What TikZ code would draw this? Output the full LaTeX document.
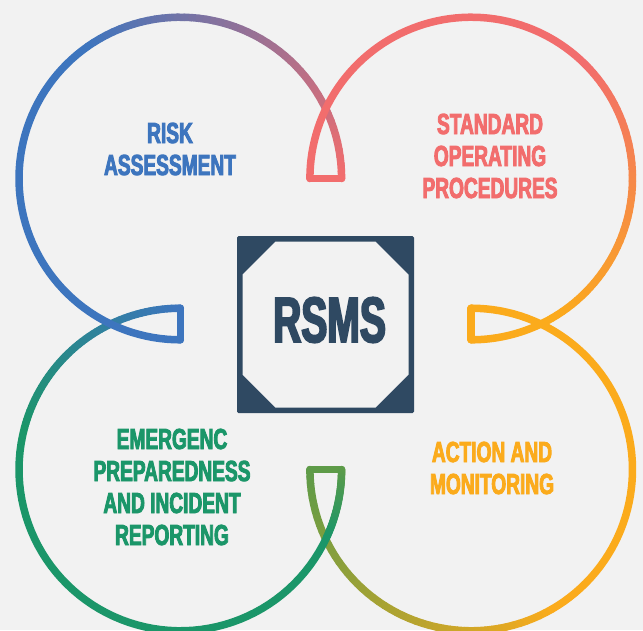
\documentclass[tikz,border=0pt]{standalone}
\usepackage{fontspec}
\newfontfamily\lblfont[UprightFont={* Bold},FakeStretch=0.66,FakeBold=3]{Liberation Sans}
\newfontfamily\titlefont[UprightFont={* Bold},FakeStretch=0.61,FakeBold=3]{Liberation Sans}
\definecolor{bg}{HTML}{F2F2F2}
\definecolor{cblue}{HTML}{3D75BE}
\definecolor{cred}{HTML}{F26D6D}
\definecolor{corange}{HTML}{FBAB1C}
\definecolor{cgreen}{HTML}{1B9669}
\definecolor{hookgreen}{HTML}{5E9B48}
\definecolor{cdark}{HTML}{2F4962}
\tikzset{
  ring/.style={line width=7.5pt,line cap=round,line join=round},
  lbl/.style={font=\lblfont\fontsize{29}{32}\selectfont,anchor=base,inner sep=0pt},
}
\newcommand\ringR{161.3}
\newcommand\gradarc[6]{%
  \foreach \k in {1,...,48}{%
    \pgfmathsetmacro\angA{#3+(#4-#3)*(\k-1)/48}%
    \pgfmathsetmacro\angB{#3+(#4-#3)*\k/48}%
    \pgfmathtruncatemacro\mixp{round(100*(\k-0.5)/48)}%
    \draw[ring,color=#6!\mixp!#5] ({#1+\ringR*cos(\angA)},{#2+\ringR*sin(\angA)}) -- ({#1+\ringR*cos(\angB)},{#2+\ringR*sin(\angB)});
  }}
\newcommand\solidarc[5]{%
  \draw[ring,color=#5] plot[domain=#3:#4,samples=60] ({#1+\ringR*cos(\x)},{#2+\ringR*sin(\x)});}
\begin{document}
\begin{tikzpicture}[x=1pt,y=-1pt]
\fill[bg] (0,0) rectangle (643,630);
\useasboundingbox (0,0) rectangle (643,630);
\clip (0,0) rectangle (643,630);
% ring tails (drawn first, so ring starts lie on top)
\gradarc{180.3}{178.5}{235}{360}{cblue}{cred}
\gradarc{471.2}{178.5}{315}{420}{cred}{corange}
\solidarc{471.2}{178.5}{420}{450}{corange}
\gradarc{471.2}{469.5}{420}{540}{corange}{hookgreen}
\gradarc{180.3}{469.5}{195}{270}{cgreen}{cblue}
% hooks
\draw[ring,cred] (341.6,178.5) -- (309.9,178.5);
\draw[ring,corange] (471.2,339.8) -- (471.2,308.2);
\draw[ring,hookgreen] (309.9,469.5) -- (341.6,469.5);
\draw[ring,cblue] (180.3,308.2) -- (180.3,339.8);
% ring starts
\solidarc{180.3}{178.5}{90}{235}{cblue}
\solidarc{471.2}{178.5}{180}{315}{cred}
\solidarc{471.2}{469.5}{270}{420}{corange}
\gradarc{180.3}{469.5}{0}{25}{hookgreen}{cgreen}
\solidarc{180.3}{469.5}{25}{195}{cgreen}
% centre box
\fill[cdark,rounded corners=1.5pt] (237,236) rectangle (414,413);
\fill[bg] (275.5,241.5) -- (375.5,241.5) -- (408.5,274.5) -- (408.5,374.5) -- (375.5,407.5) -- (275.5,407.5) -- (242.5,374.5) -- (242.5,274.5) -- cycle;
\node[anchor=base,inner sep=0pt,text=cdark,font=\titlefont\fontsize{64}{64}\selectfont] (rsms) at (329.5,342) {RSMS};
% labels
\node[lbl,text=cblue] (risk1) at (170,143) {RISK};
\node[lbl,text=cblue] (risk2) at (170,175) {ASSESSMENT};
\node[lbl,text=cred] (sop1) at (490,134) {STANDARD};
\node[lbl,text=cred] (sop2) at (490,166) {OPERATING};
\node[lbl,text=cred] (sop3) at (490,198) {PROCEDURES};
\node[lbl,text=cgreen] (em1) at (172,449) {EMERGENC};
\node[lbl,text=cgreen] (em2) at (172,481) {PREPAREDNESS};
\node[lbl,text=cgreen] (em3) at (172,513) {AND INCIDENT};
\node[lbl,text=cgreen] (em4) at (172,545) {REPORTING};
\node[lbl,text=corange] (act1) at (492,462) {ACTION AND};
\node[lbl,text=corange] (act2) at (492,494) {MONITORING};
\end{tikzpicture}
\end{document}
